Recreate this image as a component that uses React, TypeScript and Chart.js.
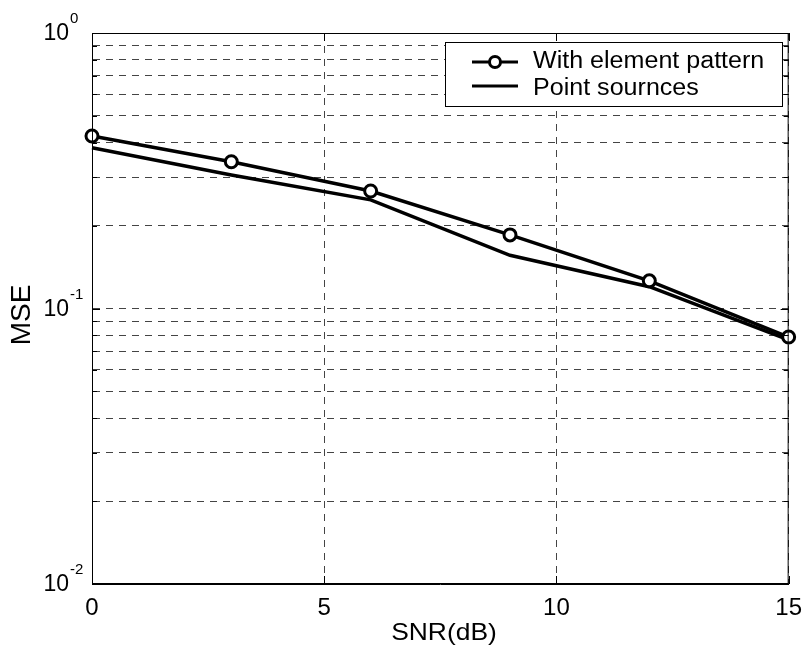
import React, { useEffect, useRef } from 'react';
import { Chart, registerables } from 'chart.js';

Chart.register(...registerables);

const snr = [0, 3, 6, 9, 12, 15];
const mseElementPattern = [0.423, 0.341, 0.267, 0.185, 0.126, 0.0788];
const msePointSources = [0.383, 0.305, 0.248, 0.156, 0.12, 0.0769];
const seriesLabels = ['With element pattern', 'Point sournces'];
const xTickValues = [0, 5, 10, 15];
const yMajorExponents = [0, -1, -2];
const yGridValues = [
  0.01, 0.02, 0.03, 0.04, 0.05, 0.06, 0.07, 0.08, 0.09,
  0.1, 0.2, 0.3, 0.4, 0.5, 0.6, 0.7, 0.8, 0.9, 1,
];
const xTitle = 'SNR(dB)';
const yTitle = 'MSE';

const FONT = '"Liberation Sans", Arial, Helvetica, sans-serif';

function drawStretched(
  ctx: CanvasRenderingContext2D,
  text: string,
  x: number,
  y: number,
  size: number,
  align: CanvasTextAlign,
  baseline: CanvasTextBaseline,
  sx: number
) {
  ctx.save();
  ctx.font = `${size}px ${FONT}`;
  ctx.textAlign = align;
  ctx.textBaseline = baseline;
  ctx.translate(x, y);
  ctx.scale(sx, 1);
  ctx.fillText(text, 0, 0);
  ctx.restore();
}

const decorPlugin = {
  id: 'decor',
  afterDraw(chart: any) {
    const ctx = chart.ctx as CanvasRenderingContext2D;
    const { left, right, top, bottom } = chart.chartArea;
    const xs = chart.scales.x;
    const ys = chart.scales.y;
    ctx.save();
    // box
    ctx.strokeStyle = '#000';
    ctx.lineWidth = 1;
    ctx.setLineDash([]);
    ctx.strokeRect(left + 0.5, top + 0.5, right - left - 1, bottom - top - 1);
    // inward ticks
    ctx.beginPath();
    yGridValues.forEach((v) => {
      const y = Math.round(ys.getPixelForValue(v)) + 0.5;
      const major = yMajorExponents.some((e) => Math.abs(Math.pow(10, e) - v) < 1e-9);
      const len = major ? 8 : 5;
      ctx.moveTo(left, y);
      ctx.lineTo(left + len, y);
      ctx.moveTo(right, y);
      ctx.lineTo(right - len, y);
    });
    xTickValues.forEach((v) => {
      const x = Math.round(xs.getPixelForValue(v)) + 0.5;
      ctx.moveTo(x, bottom);
      ctx.lineTo(x, bottom - 8);
      ctx.moveTo(x, top);
      ctx.lineTo(x, top + 8);
    });
    ctx.stroke();

    // y tick labels with superscripts
    ctx.fillStyle = '#000';
    yMajorExponents.forEach((e) => {
      const y = ys.getPixelForValue(Math.pow(10, e));
      drawStretched(ctx, '10', 69, y + 1, 23, 'right', 'middle', 1);
      drawStretched(ctx, String(e), 70, y - 10, 15, 'left', 'alphabetic', 1);
    });

    // axis titles
    drawStretched(ctx, xTitle, 444, 633, 24, 'center', 'middle', 1.1);
    ctx.save();
    ctx.translate(22, 315);
    ctx.rotate(-Math.PI / 2);
    drawStretched(ctx, yTitle, 0, 0, 28, 'center', 'middle', 1.0);
    ctx.restore();

    // legend
    const lx = 445, ly = 42, lw = 337, lh = 64;
    ctx.fillStyle = '#fff';
    ctx.fillRect(lx, ly, lw, lh);
    ctx.strokeStyle = '#000';
    ctx.lineWidth = 1;
    ctx.strokeRect(lx + 0.5, ly + 0.5, lw, lh);
    const rows = [62, 86];
    const baselines = [68, 95];
    chart.data.datasets.forEach((ds: any, i: number) => {
      const ry = rows[i];
      ctx.strokeStyle = '#000';
      ctx.lineWidth = 3;
      ctx.beginPath();
      ctx.moveTo(472, ry);
      ctx.lineTo(518, ry);
      ctx.stroke();
      if (ds.pointRadius > 0) {
        ctx.beginPath();
        ctx.arc(495, ry, 5.5, 0, Math.PI * 2);
        ctx.fillStyle = '#fff';
        ctx.fill();
        ctx.lineWidth = 3;
        ctx.stroke();
      }
      ctx.fillStyle = '#000';
      drawStretched(ctx, ds.label, 533, baselines[i], 23, 'left', 'alphabetic', 1.09);
    });
    ctx.restore();
  },
};

export default function App() {
  const ref = useRef<HTMLCanvasElement | null>(null);
  useEffect(() => {
    if (!ref.current) return;
    const chart = new Chart(ref.current, {
      type: 'line',
      data: {
        datasets: [
          {
            label: seriesLabels[0],
            data: snr.map((x, i) => ({ x, y: mseElementPattern[i] })),
            borderColor: '#000',
            borderWidth: 3.5,
            pointRadius: 6,
            pointBorderWidth: 3,
            pointBackgroundColor: '#fff',
            pointBorderColor: '#000',
            fill: false,
            tension: 0,
            clip: false,
          },
          {
            label: seriesLabels[1],
            data: snr.map((x, i) => ({ x, y: msePointSources[i] })),
            borderColor: '#000',
            borderWidth: 3.5,
            pointRadius: 0,
            fill: false,
            tension: 0,
            clip: false,
          },
        ],
      },
      options: {
        responsive: false,
        animation: false,
        devicePixelRatio: 1,
        layout: { padding: { left: 0, top: 33, right: 18, bottom: 0 } },
        plugins: { legend: { display: false }, tooltip: { enabled: false } },
        scales: {
          x: {
            type: 'linear',
            min: 0,
            max: 15,
            afterBuildTicks: (scale: any) => {
              scale.ticks = xTickValues.map((v) => ({ value: v }));
            },
            afterFit: (scale: any) => {
              scale.height = 67;
            },
            ticks: {
              color: '#000',
              font: { family: FONT, size: 24 },
              padding: 10,
              maxRotation: 0,
              callback: (v: any) => String(v),
            },
            grid: { color: '#444', lineWidth: 1, drawTicks: false },
            border: { display: true, color: '#000', width: 1, dash: [7, 6] },
          },
          y: {
            type: 'logarithmic',
            min: 0.01,
            max: 1,
            afterBuildTicks: (scale: any) => {
              scale.ticks = yGridValues.map((v) => ({ value: v }));
            },
            afterFit: (scale: any) => {
              scale.width = 92;
            },
            ticks: { display: false },
            grid: { color: '#444', lineWidth: 1, drawTicks: false },
            border: { display: true, color: '#000', width: 1, dash: [7, 6] },
          },
        },
      },
      plugins: [decorPlugin],
    } as any);
    return () => chart.destroy();
  }, []);
  return (
    <div style={{ position: 'absolute', left: 0, top: 0, width: 812, height: 651, background: '#fff' }}>
      <canvas ref={ref} width={812} height={651} style={{ width: 812, height: 651, display: 'block' }} />
    </div>
  );
}
